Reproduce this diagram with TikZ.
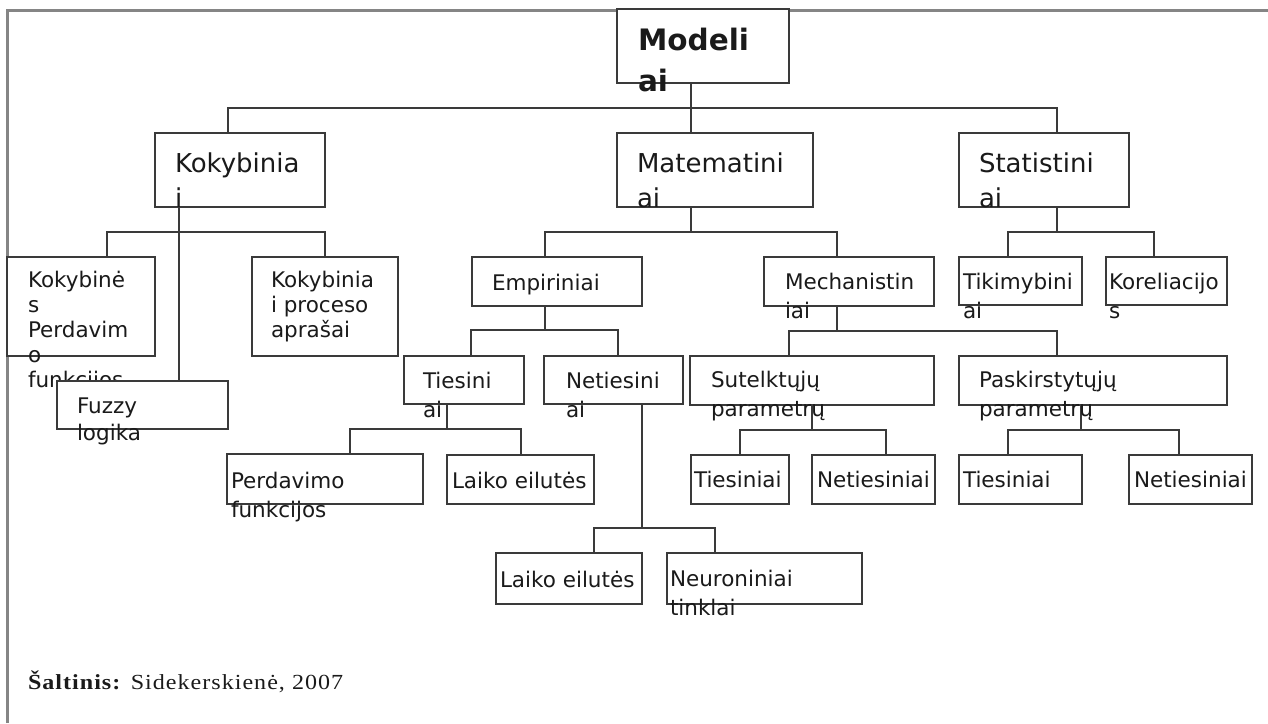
\documentclass[tikz,border=0pt]{standalone}
\usepackage{fontspec}
\setmainfont{DejaVu Sans}
\newfontfamily\capfont[LetterSpace=4.7,FakeStretch=1.12]{Liberation Serif}
\definecolor{boxline}{HTML}{3A3A3A}
\definecolor{framegray}{HTML}{858585}
\definecolor{txtcol}{HTML}{1A1A1A}
\newcommand\bx[5]{\node[box, minimum width={#4-#2}, minimum height={#5-#3}, anchor=north west] (#1) at (#2,#3) {};}
\tikzset{
  box/.style={draw=boxline, line width=2.3pt, fill=white, inner sep=0pt, outer sep=0pt, rectangle},
  conn/.style={draw=boxline, line width=2.3pt},
  frameline/.style={draw=framegray, line width=3pt},
  txt/.style={anchor=base west, inner sep=0pt, outer sep=0pt, align=left, text=txtcol},
  tmod/.style={txt, font=\fontsize{29.5}{41}\selectfont\bfseries},
  ttop/.style={txt, font=\fontsize{26}{34.5}\selectfont},
  tlow/.style={txt, font=\fontsize{21.5}{28.5}\selectfont},
  tlowa/.style={txt, font=\fontsize{21.5}{25}\selectfont},
  tlowb/.style={txt, font=\fontsize{21.5}{27}\selectfont},
}
\begin{document}
\begin{tikzpicture}[x=1pt,y=-1pt]
\useasboundingbox (0,0) rectangle (1268,723);
% outer frame
\draw[frameline] (7,723) -- (7,10) -- (1268,10);

% boxes
\bx{mod}{617}{9}{789}{83}
\bx{kok}{155}{133}{325}{207}
\bx{mat}{617}{133}{813}{207}
\bx{stat}{959}{133}{1129}{207}
\bx{kbs}{7}{257}{155}{356}
\bx{kpa}{252}{257}{398}{356}
\bx{emp}{472}{257}{642}{306}
\bx{mech}{764}{257}{934}{306}
\bx{tik}{959}{257}{1082}{305}
\bx{kor}{1106}{257}{1227}{305}
\bx{ties}{404}{356}{524}{404}
\bx{neties}{544}{356}{683}{404}
\bx{sut}{690}{356}{934}{405}
\bx{pask}{959}{356}{1227}{405}
\bx{perd}{227}{454}{423}{504}
\bx{laikoA}{447}{455}{594}{504}
\bx{tS}{691}{455}{789}{504}
\bx{nS}{812}{455}{935}{504}
\bx{tP}{959}{455}{1082}{504}
\bx{nP}{1129}{455}{1252}{504}
\bx{laikoB}{496}{553}{642}{604}
\bx{neur}{667}{553}{862}{604}

% bus coordinates
\coordinate (m0) at (691,108); \coordinate (m1) at (228,108); \coordinate (m2) at (1057,108);
\coordinate (k0) at (179,232); \coordinate (k1) at (107,232); \coordinate (k2) at (325,232);
\coordinate (a0) at (691,232); \coordinate (a1) at (545,232); \coordinate (a2) at (837,232);
\coordinate (s0) at (1057,232); \coordinate (s1) at (1008,232); \coordinate (s2) at (1154,232);
\coordinate (e0) at (545,330); \coordinate (e1) at (471,330); \coordinate (e2) at (618,330);
\coordinate (h0) at (837,331); \coordinate (h1) at (789,331); \coordinate (h2) at (1057,331);
\coordinate (t0) at (447,429); \coordinate (t1) at (350,429); \coordinate (t2) at (521,429);
\coordinate (n0) at (642,528); \coordinate (n1) at (594,528); \coordinate (n2) at (715,528);
\coordinate (u0) at (812,430); \coordinate (u1) at (740,430); \coordinate (u2) at (886,430);
\coordinate (p0) at (1081,430); \coordinate (p1) at (1008,430); \coordinate (p2) at (1179,430);

% connectors
\draw[conn] (m0 |- mod.south) -- (m0 |- mat.north);
\draw[conn] (m1 |- kok.north) -- (m1) -- (m2) -- (m2 |- stat.north);
\draw[conn] (k1 |- kbs.north) -- (k1) -- (k2) -- (k2 |- kpa.north);
\draw[conn] (a0 |- mat.south) -- (a0);
\draw[conn] (a1 |- emp.north) -- (a1) -- (a2) -- (a2 |- mech.north);
\draw[conn] (s0 |- stat.south) -- (s0);
\draw[conn] (s1 |- tik.north) -- (s1) -- (s2) -- (s2 |- kor.north);
\draw[conn] (e0 |- emp.south) -- (e0);
\draw[conn] (e1 |- ties.north) -- (e1) -- (e2) -- (e2 |- neties.north);
\draw[conn] (h0 |- mech.south) -- (h0);
\draw[conn] (h1 |- sut.north) -- (h1) -- (h2) -- (h2 |- pask.north);
\draw[conn] (t0 |- ties.south) -- (t0);
\draw[conn] (t1 |- perd.north) -- (t1) -- (t2) -- (t2 |- laikoA.north);
\draw[conn] (n0 |- neties.south) -- (n0);
\draw[conn] (n1 |- laikoB.north) -- (n1) -- (n2) -- (n2 |- neur.north);
\draw[conn] (u0 |- sut.south) -- (u0);
\draw[conn] (u1 |- tS.north) -- (u1) -- (u2) -- (u2 |- nS.north);
\draw[conn] (p0 |- pask.south) -- (p0);
\draw[conn] (p1 |- tP.north) -- (p1) -- (p2) -- (p2 |- nP.north);

% texts (anchored at the baseline of the last line)
\node[tmod] (modT) at (638,91) {Modeli\\ai};
\node[ttop] (kokT) at (175,207) {Kokybinia\\i};
\node[ttop] (matT) at (637,207) {Matematini\\ai};
\node[ttop] (statT) at (979,207) {Statistini\\ai};
\node[tlowa] (kbsT) at (28,387) {Kokybinė\\s\\Perdavim\\o\\funkcijos};
\node[tlowa] (kpaT) at (271,337) {Kokybinia\\i proceso\\aprašai};
\node[tlow] (empT) at (492,290) {Empiriniai};
\node[tlow] (mechT) at (785,318) {Mechanistin\\iai};
\node[tlow] (tikT) at (963,318) {Tikimybini\\ai};
\node[tlow] (korT) at (1109,318) {Koreliacijo\\s};
\node[tlow] (tiesT) at (423,417) {Tiesini\\ai};
\node[tlow] (netiesT) at (566,417) {Netiesini\\ai};
\node[tlow] (sutT) at (711,416) {Sutelktųjų\\parametrų};
\node[tlow] (paskT) at (979,416) {Paskirstytųjų\\parametrų};
\node[tlow] (perdT) at (231,517) {Perdavimo\\funkcijos};
\node[tlow] (laikoAT) at (452,488) {Laiko eilutės};
\node[tlow] (tST) at (694,487) {Tiesiniai};
\node[tlow] (nST) at (817,487) {Netiesiniai};
\node[tlow] (tPT) at (963,487) {Tiesiniai};
\node[tlow] (nPT) at (1134,487) {Netiesiniai};
\node[tlow] (laikoBT) at (500,587) {Laiko eilutės};
\node[tlow] (neurT) at (670,615) {Neuroniniai\\tinklai};

% Fuzzy box drawn over the text of the box beside it
\bx{fuz}{57}{381}{228}{429}
\draw[conn] (k0 |- kok.south) -- (k0 |- fuz.north);
\node[tlowb] (fuzT) at (77,440) {Fuzzy\\logika};

% source line
\node[txt, font=\capfont\fontsize{21.5}{25}\selectfont] (src) at (28,689) {\textbf{Šaltinis:} Sidekerskienė, 2007};
\end{tikzpicture}
\end{document}
